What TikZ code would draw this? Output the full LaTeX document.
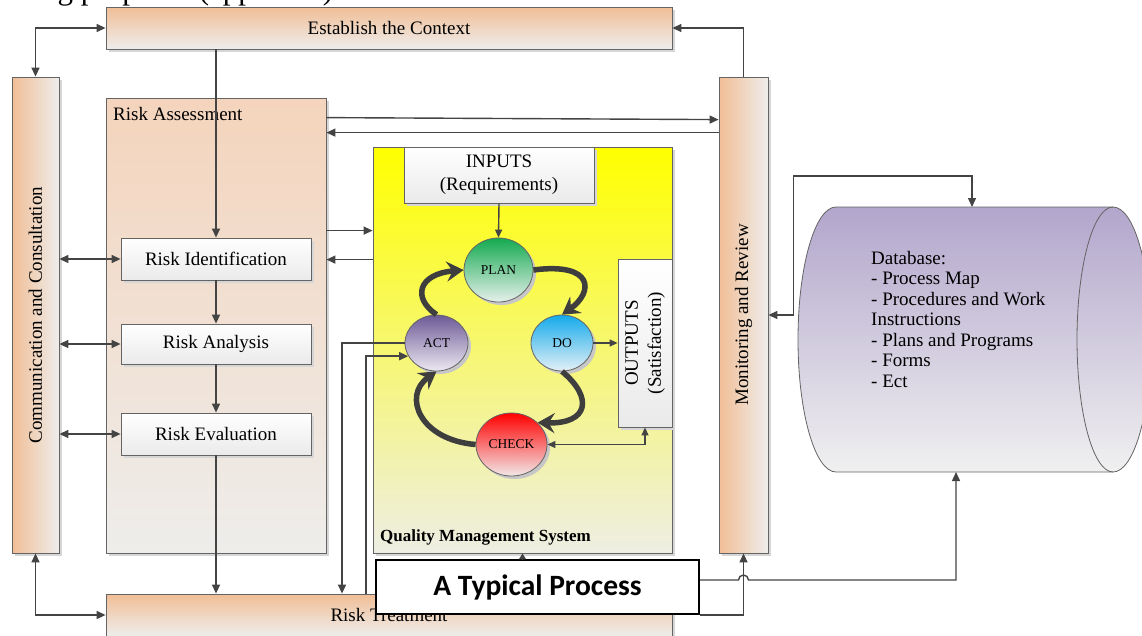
\documentclass[tikz,border=0pt]{standalone}
\usepackage{fontspec}
\setmainfont{Liberation Serif}
\newfontfamily\carlito{Carlito}
\usetikzlibrary{arrows.meta,shapes.geometric,shadows,calc}
\definecolor{orTop}{RGB}{241,190,150}
\definecolor{raTop}{RGB}{244,212,188}
\definecolor{lightGr}{RGB}{238,237,235}
\definecolor{boxBot}{RGB}{234,234,234}
\definecolor{borderGr}{RGB}{100,100,100}
\definecolor{lineGr}{RGB}{68,68,68}
\definecolor{cycGr}{RGB}{62,62,62}
\definecolor{qmsMid}{RGB}{246,244,130}
\definecolor{qmsBot}{RGB}{238,238,228}
\definecolor{dbTop}{RGB}{178,166,204}
\definecolor{dbBot}{RGB}{240,240,240}
\definecolor{planTop}{RGB}{20,170,80}
\definecolor{planBot}{RGB}{230,240,235}
\definecolor{doTop}{RGB}{20,170,235}
\definecolor{doBot}{RGB}{228,240,246}
\definecolor{actTop}{RGB}{108,90,150}
\definecolor{actBot}{RGB}{236,232,242}
\definecolor{checkTop}{RGB}{255,0,0}
\definecolor{checkBot}{RGB}{242,232,232}
\tikzset{
  box/.style={draw=borderGr, line width=0.8pt, inner sep=0pt},
  shad/.style={general shadow={fill=black!16, shadow xshift=2.5pt, shadow yshift=-2.5pt}},
  orangev/.style={box, shad, top color=orTop, bottom color=lightGr},
  orangeh/.style={box, shad, left color=orTop, right color=lightGr},
  whitebox/.style={box, shad, top color=white, bottom color=boxBot},
  conn/.style={draw=lineGr, line width=1.4pt},
  arr/.style={conn, -{Triangle[length=9pt,width=8pt]}},
  darr/.style={conn, {Triangle[length=9pt,width=8pt]}-{Triangle[length=9pt,width=8pt]}},
  cyc/.style={draw=cycGr, line width=5.5pt, -{Stealth[length=17pt,width=20pt,inset=6pt]}},
  phase/.style={ellipse, draw=borderGr, line width=0.8pt, inner sep=0pt,
    general shadow={fill=black!22, shadow xshift=3pt, shadow yshift=-3pt},
    font=\fontsize{13.5}{15}\selectfont},
}
\begin{document}
\begin{tikzpicture}[x=1pt,y=-1pt,font=\fontsize{19}{21}\selectfont]
\useasboundingbox (0,0) rectangle (1142,635);
\clip (0,0) rectangle (1142,635);

% clipped caption at the very top
\node[anchor=base west, inner sep=0pt, font=\fontsize{31}{31}\selectfont] (toptext) at (42,-1) {ng purposes (appendix)};

% main boxes
\node[orangev, minimum width=566pt, minimum height=42pt] (est) at (389,28) {Establish the Context};
\node[orangeh, minimum width=47pt, minimum height=476pt] (comm) at (35.5,315) {};
\node[rotate=90] (commtext) at (comm.center) {Communication and Consultation};
\node[box, shad, top color=raTop, bottom color=lightGr, minimum width=220pt, minimum height=455pt] (ra) at (216,325.5) {};
\node[anchor=west, inner sep=0pt] (ralabel) at (113,114) {Risk Assessment};
\node[whitebox, minimum width=190pt, minimum height=42pt] (rid) at (216,259) {Risk Identification};
\node[whitebox, minimum width=190pt, minimum height=40pt] (ran) at (216,344) {Risk Analysis};
\node[whitebox, minimum width=190pt, minimum height=42pt] (rev) at (216,434) {Risk Evaluation};
\node[orangev, minimum width=566pt, minimum height=42pt] (rt) at (389,615) {Risk Treatment};
\node[orangeh, minimum width=49pt, minimum height=476pt] (mon) at (743.5,315) {};
\node[rotate=90] (montext) at (mon.center) {Monitoring and Review};

% quality management system
\node[box, shad, top color=yellow, middle color=qmsMid, bottom color=qmsBot, minimum width=299pt, minimum height=406pt] (qms) at (522.5,350) {};
\node[anchor=west, inner sep=0pt, font=\fontsize{17}{19}\selectfont\bfseries] (qmslabel) at (380,537) {Quality Management System};
\node[whitebox, minimum width=190pt, minimum height=56pt, align=center, font=\fontsize{19}{23}\selectfont] (inputs) at (499,175) {INPUTS\\(Requirements)};
\node[whitebox, minimum width=54pt, minimum height=168pt] (outputs) at (645,343) {};
\node[rotate=90, align=center, font=\fontsize{19}{23}\selectfont] (outtext) at (outputs.center) {OUTPUTS\\(Satisfaction)};

% PDCA
\node[phase, top color=planTop, bottom color=planBot, minimum width=69pt, minimum height=64pt] (plan) at (498.5,270) {PLAN};
\node[phase, top color=doTop, bottom color=doBot, minimum width=62pt, minimum height=56pt] (do) at (562,343) {DO};
\node[phase, top color=actTop, bottom color=actBot, minimum width=63pt, minimum height=56pt] (act) at (436.5,343) {ACT};
\node[phase, top color=checkTop, bottom color=checkBot, minimum width=71pt, minimum height=63pt] (check) at (511.5,444.5) {CHECK};

\draw[cyc] (act.north) .. controls (412,298) and (418,274) .. (plan.west);
\draw[cyc] (plan.east) .. controls (594,262) and (594,292) .. (do.north);
\draw[cyc] (do.south) .. controls (594,398) and (588,424) .. (check.40);
\draw[cyc] (check.west) .. controls (420,440) and (402,396) .. (act.south);

% database
\path[draw=borderGr, line width=0.8pt, top color=dbTop, bottom color=dbBot]
  (836,207) coordinate (dbnw) -- (1113,207)
  arc[start angle=90, end angle=-90, x radius=38pt, y radius=132.5pt]
  -- (836,472)
  arc[start angle=270, end angle=90, x radius=38pt, y radius=132.5pt] -- cycle;
\draw[borderGr, line width=0.8pt] (1113,207) arc[start angle=90, end angle=270, x radius=36pt, y radius=132.5pt];
\coordinate (dbtop) at (972,207);
\coordinate (dbbot) at (956,472);
\node[anchor=west, align=left, inner sep=0pt, font=\fontsize{19}{20.5}\selectfont] (dbtext) at (871,319)
  {Database:\\- Process Map\\- Procedures and Work\\Instructions\\- Plans and Programs\\- Forms\\- Ect};

% connectors in the risk column
\draw[arr] (rid.north |- est.south) -- (rid.north);
\draw[arr] (rid.south) -- (ran.north);
\draw[arr] (ran.south) -- (rev.north);
\draw[arr] (rev.south) -- (rev.south |- rt.north);
\draw[darr] (comm.east |- rid.west) -- (rid.west);
\draw[darr] (comm.east |- ran.west) -- (ran.west);
\draw[darr] (comm.east |- rev.west) -- (rev.west);
\draw[darr] (comm.north) |- (est.west);
\draw[darr] (comm.south) |- (rt.west);
\draw[arr] (mon.north) |- (est.east);
\draw[arr] ([yshift=-20pt]ra.north east) -- ([yshift=-43pt]mon.north west);
\draw[arr] ([yshift=-56pt]mon.north west) -- ([yshift=-35pt]ra.north east);
\draw[arr] ([yshift=-133pt]ra.north east) -- ([yshift=-84pt]qms.north west);
\draw[arr] ([yshift=-113pt]qms.north west) -- ([yshift=-162pt]ra.north east);

% connectors inside the QMS
\draw[conn, -{Triangle[length=8pt,width=7pt]}] (inputs.south) -- (plan.north);
\draw[conn, line width=1.2pt, -{Triangle[length=8pt,width=7pt]}] (do.east) -- (do.east -| outputs.west);
\draw[conn, line width=1.2pt, {Triangle[length=8pt,width=7pt]}-{Triangle[length=8pt,width=7pt]}] (check.east) -| (outputs.south);
\draw[arr] (act.west) -| ([xshift=-47pt]rt.north);
\draw[arr] ([xshift=-23pt]rt.north) |- (act.205);

% a typical process
\node[draw=black, line width=2pt, fill=white, minimum width=323pt, minimum height=54pt, inner sep=0pt,
  font=\carlito\bfseries\fontsize{29.5}{31}\selectfont] (tp) at (537.5,587) {A Typical Process};
\draw[conn, -{Triangle[length=6pt,width=7pt]}] (qms.south |- tp.north) -- (qms.south);
\coordinate (tpo) at ([yshift=7pt]tp.east);
\coordinate (hopc) at (tpo -| mon.south);
\draw[arr] (tpo) -- ([xshift=-5pt]hopc) arc[start angle=180, end angle=0, radius=5pt] -- (hopc -| dbbot) -- (dbbot);
\draw[arr] (tp.south east) -| (mon.south);
\draw[darr] (mon.east) -- ([xshift=25pt]mon.east) |- ([yshift=31pt]dbtop) -- (dbtop);
\end{tikzpicture}
\end{document}
